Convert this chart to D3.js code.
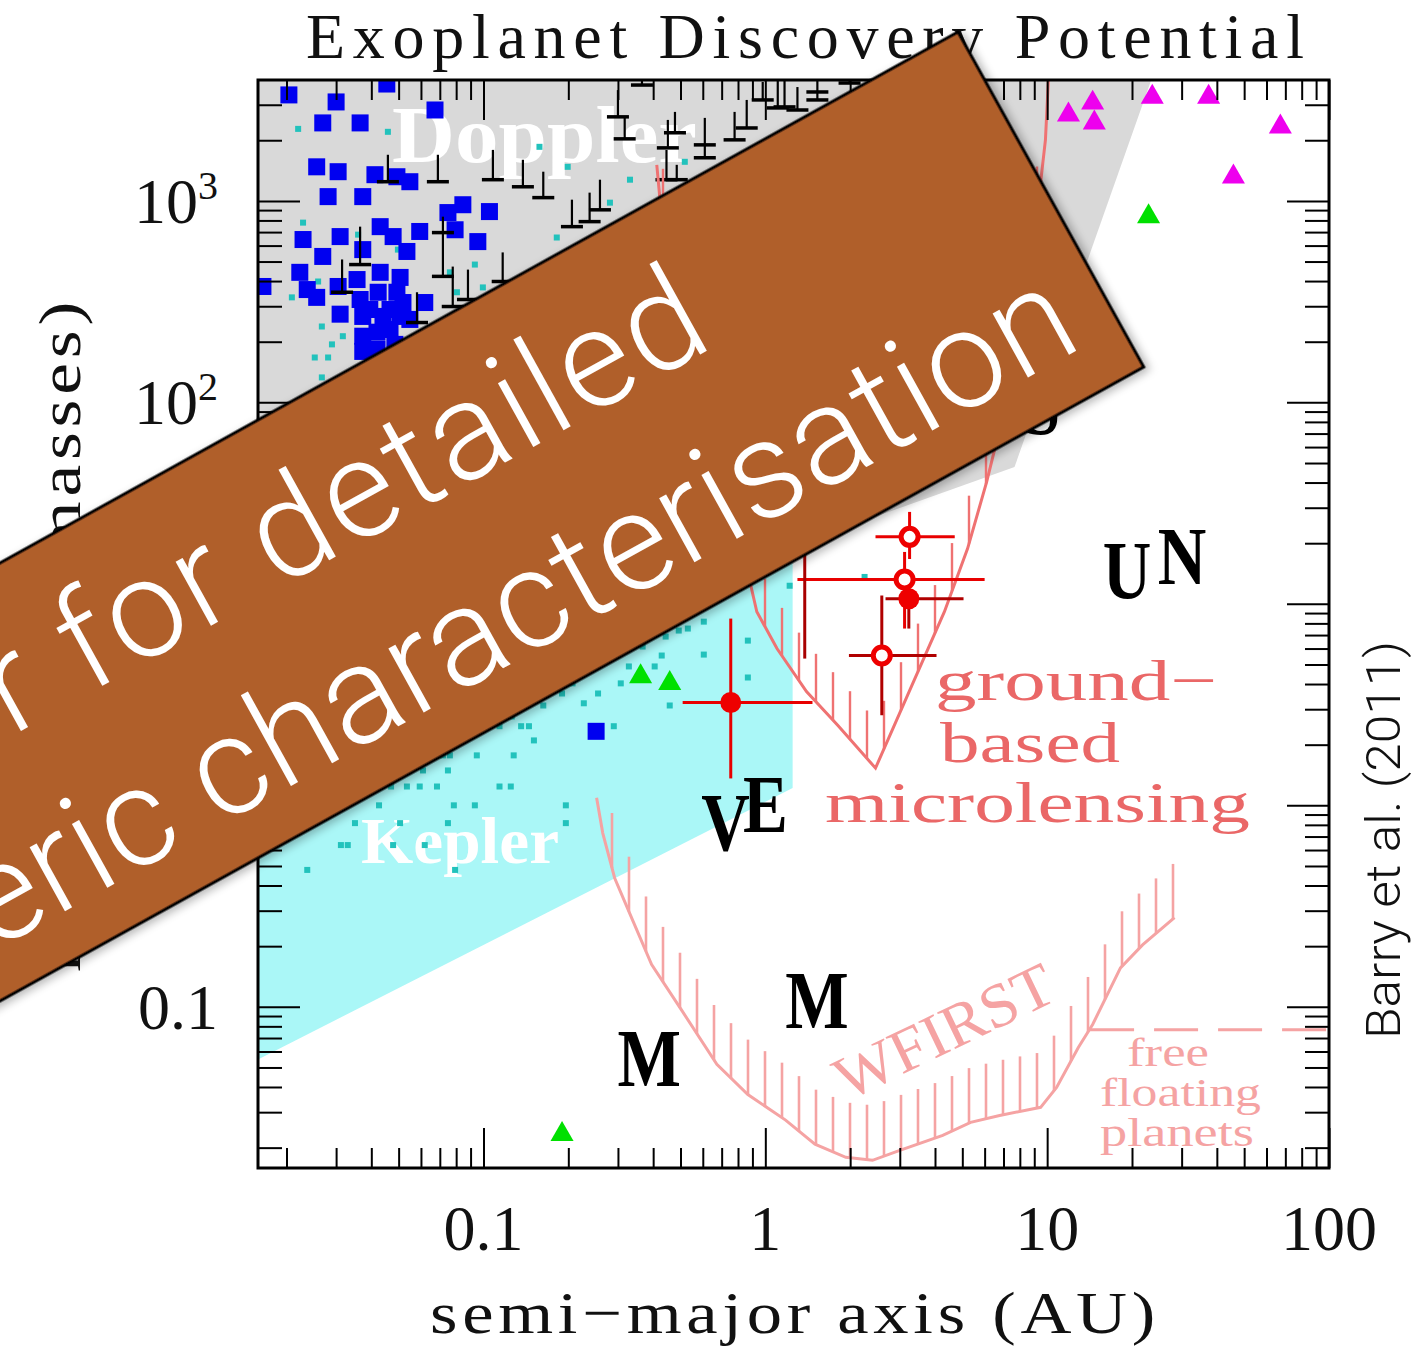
<!DOCTYPE html>
<html>
<head>
<meta charset="utf-8">
<script src="https://cdn.jsdelivr.net/npm/d3@7"></script>
<style>
  body { margin: 0; background: #fff; }
  svg { display: block; }
</style>
</head>
<body>
<svg id="chart" width="1413" height="1347"></svg>
<script>
// ---------------- data (semi-major axis in AU, mass in Earth masses) ----------------

// Doppler (radial velocity) planets
const dopplerPlanets = [
  [0.0204,3357],[0.0300,3098],[0.0454,3802],[0.0673,2826],[0.0269,2438],[0.0365,2438],
  [0.0256,1476],[0.0305,1396],[0.0412,1349],[0.0493,1318],[0.0548,1245],[0.0281,1050],
  [0.0373,1050],[0.0845,957],[0.105,885],[0.0748,875],[0.0229,643],[0.0310,665],
  [0.0430,745],[0.0478,665],[0.0594,705],[0.0793,719],[0.0955,628],[0.0269,530],
  [0.0373,573],[0.0535,561],[0.0223,442],[0.0165,376],[0.0237,363],[0.0256,332],
  [0.0305,376],[0.0356,407],[0.0430,442],[0.0506,417],[0.0365,324],[0.0423,352],
  [0.0493,352],[0.0518,313],[0.0619,313],[0.0310,274],[0.0373,267],[0.0440,267],
  [0.0506,267],[0.0373,213],[0.0419,223],[0.0466,230],[0.0373,179],[0.0419,183],
  [0.0395,289],[0.0466,289],[0.0548,258],[0.0485,194],[0.251,2.33]
];

// Kepler candidates
const keplerCandidates = [
  [0.0220,2277],[0.0458,2202],[0.158,1855],[0.199,1476],[0.331,1274],[0.518,1563],
  [0.281,980],[0.0229,780],[0.0359,680],[0.182,658],[0.0497,573],[0.0932,483],
  [0.0760,442],[0.0259,398],[0.0995,372],[0.0805,352],[0.0209,332],[0.0267,238],
  [0.0317,213],[0.0290,194],[0.0252,167],[0.0281,167],[0.0267,133],
  [0.605,8.16],[0.493,7.37],[0.531,7.54],[0.443,6.88],[0.367,6.14],[0.429,5.54],
  [0.328,4.89],[0.405,4.89],[0.307,4.03],[0.255,3.59],[0.227,3.21],[0.190,3.59],
  [0.207,4.03],[0.163,3.13],[0.290,2.47],[0.458,3.13],[0.136,2.47],[0.145,2.47],
  [0.114,2.47],[0.126,2.76],[0.151,2.10],[0.128,1.77],[0.0947,1.77],[0.0760,1.77],
  [0.0718,1.77],[0.0610,1.49],[0.0748,1.49],[0.0535,1.24],[0.0594,1.24],[0.0684,1.24],
  [0.0470,1.24],[0.114,1.24],[0.125,1.24],[0.0426,1.00],[0.0785,1.00],[0.0932,1.00],
  [0.196,1.00],[0.0350,0.816],[0.0506,0.816],[0.0748,0.816],[0.196,0.816],
  [0.0312,0.635],[0.0330,0.635],[0.0478,0.635],[0.0619,0.635],[0.0237,0.478],
  [0.0793,0.478],[0.867,6.57],[0.605,5.60],[0.867,4.31],[1.22,12.3],[2.25,13.6]
];

// Doppler lower limits: bar at limitLo, line up to limitHi, optional extra bar
const limitA   = [0.0458,0.0689,0.108,0.138,0.163,0.206,0.238,0.259,0.300,0.317,0.365,0.478,0.451,0.446,0.485,0.610,0.778,0.859,0.979,1.107,1.17,1.30,1.53,1.99,0.0718,0.0365,0.0315,0.0778,0.0881,0.117,0.0581];
const limitLo  = [1245,1245,1274,1175,1038,745,789,903,2613,2032,3758,2178,1833,1274,1274,1637,2009,2301,3170,2893,2927,2826,3170,3846,422,483,352,299,324,398,249];
const limitHi  = [1694,1694,1791,1600,1396,1014,1099,1274,3548,2613,3981,2765,2523,1791,1510,2582,2765,3170,3890,3981,3981,3673,3981,3981,835,745,512,472,456,555,352];
const limitMid = [null,null,null,null,null,null,null,null,null,null,null,null,null,null,null,1897,null,null,null,null,null,null,3472,null,696,null,null,null,null,null,null];

// Microlensing planets with error bars
const mlA    = [0.754, 3.25, 3.12, 3.23, 2.59, 1.38];
const mlM    = [3.24, 21.5, 13.2, 10.6, 5.54, 23.6];
const mlALo  = [0.509, 2.46, 1.30, 2.67, 1.98, 1.20];
const mlAHi  = [1.47, 4.70, 6.00, 5.05, 4.05, 1.60];
const mlMLo  = [1.36, 16.7, 7.54, 7.54, 2.80, 5.35];
const mlMHi  = [8.45, 28.6, 18.1, 11.5, 11.0, 33.2];
const mlOpen = [false, true, true, false, true, false];
const mlBar  = ["#e80000","#e80000","#e80000","#b00000","#b00000","#a80000"];

// Imaging (magenta) and transit (green) planets
const imagingA = [11.9, 14.5, 14.7, 23.6, 37.4, 67.2, 45.8];
const imagingM = [2671, 3063, 2438, 3279, 3279, 2329, 1318];
const transitA = [22.9, 0.361, 0.458, 0.190];
const transitM = [835, 4.36, 4.03, 0.0233];

// Detection regions
const dopplerRegion = [[0.01585,3981],[23.4,3981],[7.66,47.8],[0.01585,2.17]];
const keplerRegion  = [[0.01585,3981],[1.25,3981],[1.25,1.22],[0.01585,0.0548]];

// Sensitivity curves
const groundA = [0.412,0.423,0.481,0.585,0.718,0.845,0.933,1.10,1.40,1.81,2.46,3.36,4.32,5.22,6.10,7.06,8.11,9.16,9.86,10.1];
const groundM = [1510,1014,363,116,41.7,16.7,9.14,6.0,3.67,2.49,1.53,4.12,9.14,18.8,40.3,92.5,258,807,2009,3981];
const wfirstA = [0.252,0.265,0.292,0.339,0.395,0.506,0.673,0.867,1.18,1.50,1.93,2.40,3.00,4.26,5.35,6.78,9.48,10.8,12.9,14.5,18.2,21.8,28.3];
const wfirstM = [1.09,0.728,0.436,0.267,0.162,0.0957,0.0518,0.0367,0.0274,0.0208,0.0179,0.0173,0.0194,0.0230,0.0267,0.0289,0.0317,0.0398,0.0628,0.0817,0.156,0.203,0.277];
const freeFloatA = [14.2, 100];
const freeFloatM = 0.077;

// Solar System planets
const solarNames = ["M","V","E","M","J","S","U","N"];
const solarA = [0.387, 0.723, 1.0, 1.524, 5.20, 9.54, 19.2, 30.1];
const solarM = [0.0553, 0.815, 1.0, 0.107, 318, 95.2, 14.5, 17.1];

// Axis tick labels
const xTickValues = [0.1, 1, 10, 100];
const xTickLabels = ["0.1", "1", "10", "100"];
const yTickValues = [0.1, 1, 10, 100, 1000];
const yTickBase   = ["0.1", "1", "10", "10", "10"];
const yTickExp    = ["", "", "", "2", "3"];

const bannerLines = ["better for detailed", "atmospheric characterisation"];

// ---------------- drawing ----------------
const svg = d3.select("#chart");
const defs = svg.append("defs");
defs.append("clipPath").attr("id", "plotClip")
  .append("rect").attr("x", 258).attr("y", 80).attr("width", 1071).attr("height", 1088);
const shadow = defs.append("filter").attr("id", "shadow")
  .attr("x", "-20%").attr("y", "-20%").attr("width", "140%").attr("height", "140%");
shadow.append("feDropShadow").attr("dx", 3).attr("dy", 4).attr("stdDeviation", 4)
  .attr("flood-color", "#000").attr("flood-opacity", 0.28);

const x = d3.scaleLog().domain([Math.pow(10, -1.8), 100]).range([258, 1329]);
const y = d3.scaleLog().domain([Math.pow(10, -1.8), Math.pow(10, 3.6)]).range([1168, 80]);

const serif = "'Liberation Serif', 'Times New Roman', serif";
const plot = svg.append("g").attr("clip-path", "url(#plotClip)");
const poly = d3.line().x(d => x(d[0])).y(d => y(d[1]));

// shaded regions
plot.append("path").attr("d", poly(keplerRegion) + "Z").attr("fill", "#aaf7f7");
plot.append("path").attr("d", poly(dopplerRegion) + "Z").attr("fill", "#d9d9d9");

// region names
plot.append("text").attr("x", 392).attr("y", 162).attr("textLength", 305)
  .attr("lengthAdjust", "spacingAndGlyphs")
  .style("font", `bold 80px ${serif}`).attr("fill", "#fff").text("Doppler");
plot.append("text").attr("x", 361).attr("y", 863).attr("textLength", 198)
  .attr("lengthAdjust", "spacingAndGlyphs")
  .style("font", `bold 66px ${serif}`).attr("fill", "#fff").text("Kepler");

// Kepler candidates
plot.append("g").selectAll("rect").data(keplerCandidates).join("rect")
  .attr("x", d => x(d[0]) - 3).attr("y", d => y(d[1]) - 3)
  .attr("width", 6).attr("height", 6).attr("fill", "#22c2bc");

// Doppler planets
plot.append("g").selectAll("rect").data(dopplerPlanets).join("rect")
  .attr("x", d => x(d[0]) - 8.5).attr("y", d => y(d[1]) - 8.5)
  .attr("width", 17).attr("height", 17).attr("fill", "#0000f0");

// Doppler lower limits
const lim = plot.append("g").attr("stroke", "#000");
limitA.forEach((a, i) => {
  const px = x(a);
  lim.append("line").attr("x1", px).attr("x2", px)
    .attr("y1", y(limitLo[i])).attr("y2", y(limitHi[i])).attr("stroke-width", 2.2);
  lim.append("line").attr("x1", px - 11).attr("x2", px + 11)
    .attr("y1", y(limitLo[i])).attr("y2", y(limitLo[i])).attr("stroke-width", 3.5);
  if (limitMid[i] !== null) {
    lim.append("line").attr("x1", px - 11).attr("x2", px + 11)
      .attr("y1", y(limitMid[i])).attr("y2", y(limitMid[i])).attr("stroke-width", 3.5);
  }
});

// vertical hatching hanging above a sensitivity curve
function hatchLines(aArr, mArr, step, len) {
  const pts = aArr.map((a, i) => [x(a), y(mArr[i])]);
  const out = [];
  for (let i = 0; i < pts.length - 1; i++) {
    const [x0, y0] = pts[i], [x1, y1] = pts[i + 1];
    if (x1 <= x0) continue;
    for (let X = Math.ceil(x0 / step) * step; X < x1; X += step) {
      const t = (X - x0) / (x1 - x0);
      const Y = y0 + t * (y1 - y0);
      out.push([X, Y, Y - len]);
    }
  }
  return out;
}
const curveLine = d3.line().x(d => x(d[0])).y(d => y(d[1]));

// ground-based microlensing
const groundCol = "#ef7272";
plot.append("path").attr("d", curveLine(groundA.map((a, i) => [a, groundM[i]])))
  .attr("fill", "none").attr("stroke", groundCol).attr("stroke-width", 3);
plot.append("g").selectAll("line").data(hatchLines(groundA, groundM, 17, 48)).join("line")
  .attr("x1", d => d[0]).attr("x2", d => d[0]).attr("y1", d => d[1]).attr("y2", d => d[2])
  .attr("stroke", groundCol).attr("stroke-width", 2.4);

// WFIRST
const wfCol = "#f5a3a3";
plot.append("path").attr("d", curveLine(wfirstA.map((a, i) => [a, wfirstM[i]])))
  .attr("fill", "none").attr("stroke", wfCol).attr("stroke-width", 3);
plot.append("g").selectAll("line").data(hatchLines(wfirstA, wfirstM, 17, 55)).join("line")
  .attr("x1", d => d[0]).attr("x2", d => d[0]).attr("y1", d => d[1]).attr("y2", d => d[2])
  .attr("stroke", wfCol).attr("stroke-width", 2.6);
plot.append("line")
  .attr("x1", x(freeFloatA[0])).attr("x2", x(freeFloatA[1]))
  .attr("y1", y(freeFloatM)).attr("y2", y(freeFloatM))
  .attr("stroke", wfCol).attr("stroke-width", 3).attr("stroke-dasharray", "44,20");

// curve labels
const gLab = [["ground\u2212", 935, 700, 282], ["based", 940, 762, 180], ["microlensing", 825, 822, 425]];
gLab.forEach(([t, px, py, w]) => {
  plot.append("text").attr("x", px).attr("y", py).attr("textLength", w)
    .attr("lengthAdjust", "spacingAndGlyphs")
    .style("font", `58px ${serif}`).attr("fill", "#ea6767").text(t);
});
const fLab = [["free", 1127, 1066, 82], ["floating", 1100, 1106, 161], ["planets", 1100, 1146, 154]];
fLab.forEach(([t, px, py, w]) => {
  plot.append("text").attr("x", px).attr("y", py).attr("textLength", w)
    .attr("lengthAdjust", "spacingAndGlyphs")
    .style("font", `39px ${serif}`).attr("fill", wfCol).text(t);
});
plot.append("text").attr("transform", "translate(953,1050) rotate(-25.7)")
  .attr("text-anchor", "middle").attr("textLength", 236).attr("lengthAdjust", "spacingAndGlyphs")
  .style("font", `62px ${serif}`).attr("fill", wfCol).text("WFIRST");

// microlensing planets
const ml = plot.append("g");
mlA.forEach((a, i) => {
  ml.append("line").attr("x1", x(mlALo[i])).attr("x2", x(mlAHi[i]))
    .attr("y1", y(mlM[i])).attr("y2", y(mlM[i])).attr("stroke", mlBar[i]).attr("stroke-width", 3);
  ml.append("line").attr("x1", x(a)).attr("x2", x(a))
    .attr("y1", y(mlMLo[i])).attr("y2", y(mlMHi[i])).attr("stroke", mlBar[i]).attr("stroke-width", 3);
});
mlA.forEach((a, i) => {
  ml.append("circle").attr("cx", x(a)).attr("cy", y(mlM[i]))
    .attr("r", mlOpen[i] ? 8.5 : 10.5)
    .attr("fill", mlOpen[i] ? "#fff" : "#ee0000")
    .attr("stroke", "#ee0000").attr("stroke-width", mlOpen[i] ? 5 : 0);
});

// imaging and transit planets
const tri = d3.symbol().type(d3.symbolTriangle).size(230);
plot.append("g").selectAll("path").data(imagingA.map((a, i) => [a, imagingM[i]])).join("path")
  .attr("d", tri).attr("transform", d => `translate(${x(d[0])},${y(d[1])})`).attr("fill", "#ee00ee");
plot.append("g").selectAll("path").data(transitA.map((a, i) => [a, transitM[i]])).join("path")
  .attr("d", tri).attr("transform", d => `translate(${x(d[0])},${y(d[1])})`).attr("fill", "#00e000");

// Solar System planets
plot.append("g").selectAll("text").data(solarNames).join("text")
  .attr("transform", (d, i) => `translate(${x(solarA[i])},${y(solarM[i])}) scale(0.82,1)`)
  .attr("text-anchor", "middle").attr("y", 27)
  .style("font", `bold 82px ${serif}`).attr("fill", "#000").text(d => d);

// ---------------- frame and axes ----------------
const isDecade = v => Math.abs(Math.log10(v) - Math.round(Math.log10(v))) < 1e-6;
const xMinor = x.ticks().filter(v => !isDecade(v));
const yMinor = y.ticks().filter(v => !isDecade(v));
const yMajor = y.ticks().filter(isDecade);

function addAxis(axisFn, scale, values, size, transform) {
  svg.append("g").attr("transform", transform)
    .call(axisFn(scale).tickValues(values).tickSize(size).tickFormat(""))
    .call(g => g.select(".domain").remove())
    .call(g => g.selectAll("line").attr("stroke", "#000").attr("stroke-width", 2));
}
addAxis(d3.axisBottom, x, xTickValues, -40, "translate(0,1168)");
addAxis(d3.axisBottom, x, xMinor, -20, "translate(0,1168)");
addAxis(d3.axisTop, x, xTickValues, -40, "translate(0,80)");
addAxis(d3.axisTop, x, xMinor, -20, "translate(0,80)");
addAxis(d3.axisLeft, y, yMajor, -42, "translate(258,0)");
addAxis(d3.axisLeft, y, yMinor, -24, "translate(258,0)");
addAxis(d3.axisRight, y, yMajor, -42, "translate(1329,0)");
addAxis(d3.axisRight, y, yMinor, -24, "translate(1329,0)");

svg.append("rect").attr("x", 258).attr("y", 80).attr("width", 1071).attr("height", 1088)
  .attr("fill", "none").attr("stroke", "#000").attr("stroke-width", 3);

// tick labels
svg.append("g").selectAll("text").data(xTickValues).join("text")
  .attr("x", d => x(d)).attr("y", 1250).attr("text-anchor", "middle")
  .style("font", `64px ${serif}`).attr("fill", "#111").text((d, i) => xTickLabels[i]);
const yl = svg.append("g").selectAll("text").data(yTickValues).join("text")
  .attr("x", 218).attr("y", d => y(d) + 22).attr("text-anchor", "end")
  .style("font", `64px ${serif}`).attr("fill", "#111");
yl.append("tspan").text((d, i) => yTickBase[i]);
yl.append("tspan").attr("dy", -24).style("font-size", "40px").text((d, i) => yTickExp[i]);

// axis titles
svg.append("text").attr("x", 430).attr("y", 1333).attr("textLength", 730)
  .attr("lengthAdjust", "spacingAndGlyphs").style("letter-spacing", "4px")
  .style("font", `60px ${serif}`).attr("fill", "#111").text("semi\u2212major axis (AU)");
svg.append("text").attr("transform", "translate(80,297) rotate(-90)")
  .attr("text-anchor", "end").attr("textLength", 675).attr("lengthAdjust", "spacingAndGlyphs")
  .style("letter-spacing", "4px")
  .style("font", `60px ${serif}`).attr("fill", "#111").text("mass (Earth masses)");

// title
svg.append("text").attr("x", 306).attr("y", 58).attr("textLength", 998)
  .attr("lengthAdjust", "spacing")
  .style("font", `64px ${serif}`).attr("fill", "#111").text("Exoplanet Discovery Potential");

// credit
svg.append("text").attr("transform", "translate(1400,840) rotate(-90)")
  .attr("text-anchor", "middle").attr("textLength", 398).attr("lengthAdjust", "spacingAndGlyphs")
  .style("font", "300 48px Roboto, 'Helvetica Neue', sans-serif").attr("fill", "#111")
  .text("Barry et al. (2011)");

// ---------------- overlay banner ----------------
const banner = svg.append("g").attr("transform", "translate(958,32) rotate(-29)");
banner.append("rect").attr("x", -2400).attr("y", 0).attr("width", 2400).attr("height", 383)
  .attr("fill", "#b05f2b").attr("stroke", "#000").attr("stroke-width", 3)
  .attr("filter", "url(#shadow)");
banner.selectAll("text.line").data(bannerLines).join("text").attr("class", "line")
  .attr("x", (d, i) => i === 0 ? -360 : -40)
  .attr("y", (d, i) => i === 0 ? 157 : 336)
  .attr("text-anchor", "end")
  .style("font", "300 138px Roboto, 'Helvetica Neue', sans-serif")
  .style("letter-spacing", (d, i) => i === 0 ? "3.5px" : "1px")
  .attr("fill", "#fff").text(d => d);
</script>
</body>
</html>
